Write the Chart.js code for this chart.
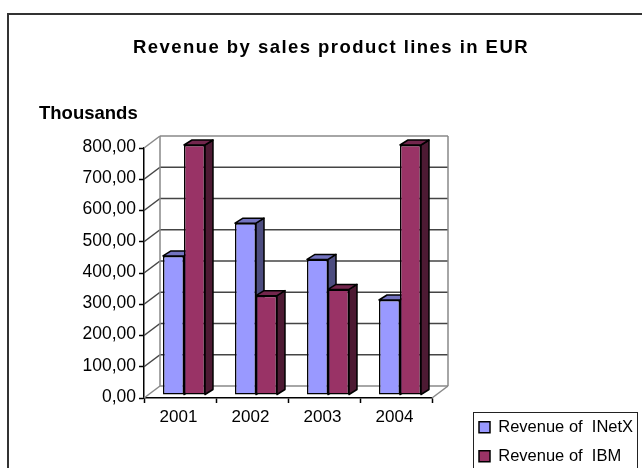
<!DOCTYPE html>
<html>
<head>
<meta charset="utf-8">
<title>Revenue by sales product lines</title>
<script src="https://cdn.jsdelivr.net/npm/chart.js@4"></script>
<style>
  html, body { margin: 0; padding: 0; background: #fff; overflow: hidden; }
  canvas { display: block; }
</style>
</head>
<body>
<canvas id="myChart" width="642" height="468"></canvas>
<script>
const years = ['2001', '2002', '2003', '2004'];
const inetxRevenue = [445, 550, 434, 304];
const ibmRevenue = [800, 318, 338, 800];
const yTickLabels = ['0,00', '100,00', '200,00', '300,00', '400,00', '500,00', '600,00', '700,00', '800,00'];

const FONT = 'Liberation Sans, Arial, sans-serif';

// the fake 3D look: floor/back wall, plus top and side faces of each bar
const wallDepth = { x: 16, y: -12 };
const barShift = { x: 4, y: -3 };
const barDepth = { x: 8, y: -5 };
const topColors = ['#7373c0', '#73264d'];
const sideColors = ['#4d4d80', '#4d1a33'];

function line(ctx, x1, y1, x2, y2) {
  ctx.beginPath();
  ctx.moveTo(x1, y1);
  ctx.lineTo(x2, y2);
  ctx.stroke();
}

function face(ctx, pts, fill) {
  ctx.beginPath();
  pts.forEach((p, i) => i ? ctx.lineTo(p[0], p[1]) : ctx.moveTo(p[0], p[1]));
  ctx.closePath();
  ctx.fillStyle = fill;
  ctx.fill();
  ctx.stroke();
}

const chartFrame = {
  id: 'chartFrame',
  afterLayout(chart) {
    // title, axis caption and legend sit where the layout would not put them
    chart.boxes.forEach(box => {
      if (box === chart.legend) {
        box.left = 466.5; box.right = 642; box.top = 406.5; box.bottom = 520;
      } else if (box.options.text === 'Thousands') {
        box.left = 39; box.right = 200; box.top = 103.3; box.bottom = 126;
      } else if (box.options.text) {
        box.left = 7; box.right = 655; box.top = 36.9; box.bottom = 60;
        // the source title is set wider than the font's own spacing
        const drawTitle = box.draw;
        box.draw = function () {
          chart.ctx.letterSpacing = '1.45px';
          drawTitle.call(this);
          chart.ctx.letterSpacing = '0px';
        };
      }
    });
  },
  beforeDraw(chart) {
    const ctx = chart.ctx;
    ctx.save();
    ctx.strokeStyle = '#333';
    ctx.lineWidth = 2;
    ctx.strokeRect(8, 14, 700, 600);
    ctx.lineWidth = 1;
    ctx.strokeStyle = '#222';
    ctx.strokeRect(473.5, 412.5, 164, 80);
    ctx.restore();
  },
  beforeDatasetsDraw(chart) {
    const ctx = chart.ctx;
    const { left, right, top, bottom } = chart.chartArea;
    const yScale = chart.scales.y;
    ctx.save();
    ctx.lineWidth = 1.5;
    yScale.ticks.forEach((tick, i) => {
      const py = yScale.getPixelForTick(i);
      const edge = i === 0 || i === yScale.ticks.length - 1;
      ctx.strokeStyle = edge ? '#888' : '#444';
      line(ctx, left, py, left + wallDepth.x, py + wallDepth.y);
      line(ctx, left + wallDepth.x, py + wallDepth.y, right + wallDepth.x, py + wallDepth.y);
    });
    ctx.strokeStyle = '#888';
    line(ctx, left + wallDepth.x, top + wallDepth.y, left + wallDepth.x, bottom + wallDepth.y);
    line(ctx, right + wallDepth.x, top + wallDepth.y, right + wallDepth.x, bottom + wallDepth.y);
    line(ctx, right, bottom, right + wallDepth.x, bottom + wallDepth.y);

    // sides and tops first, in series order, so the next bar can cover them
    ctx.strokeStyle = '#000';
    ctx.lineWidth = 1.5;
    ctx.lineJoin = 'round';
    chart.data.datasets.forEach((ds, d) => {
      chart.getDatasetMeta(d).data.forEach(bar => {
        const x1 = bar.x + bar.width / 2 + barShift.x;
        const x0 = bar.x - bar.width / 2 + barShift.x;
        const y0 = bar.y + barShift.y;
        const y1 = bar.base + barShift.y;
        face(ctx, [[x1, y0], [x1 + barDepth.x, y0 + barDepth.y], [x1 + barDepth.x, y1 + barDepth.y], [x1, y1]], sideColors[d]);
        face(ctx, [[x0, y0], [x0 + barDepth.x, y0 + barDepth.y], [x1 + barDepth.x, y0 + barDepth.y], [x1, y0]], topColors[d]);
      });
    });
    ctx.restore();

    // front faces come from the library, just moved into the room
    ctx.save();
    ctx.translate(barShift.x, barShift.y);
  },
  afterDatasetsDraw(chart) {
    chart.ctx.restore();
  }
};

const ctx = document.getElementById('myChart');
new Chart(ctx, {
  type: 'bar',
  data: {
    labels: years,
    datasets: [{
      label: 'Revenue of  INetX',
      data: inetxRevenue,
      backgroundColor: '#9999ff',
      borderColor: '#000',
      borderWidth: 1.5,
      borderSkipped: false
    }, {
      label: 'Revenue of  IBM',
      data: ibmRevenue,
      backgroundColor: '#993366',
      borderColor: '#000',
      borderWidth: 1.5,
      borderSkipped: false
    }]
  },
  plugins: [chartFrame],
  options: {
    responsive: false,
    animation: false,
    categoryPercentage: 0.583,
    barPercentage: 1,
    layout: { padding: { left: 0, top: 103.6, right: 210, bottom: 0 } },
    plugins: {
      tooltip: { enabled: false },
      title: {
        display: true,
        text: 'Revenue by sales product lines in EUR',
        color: '#000',
        padding: 0,
        font: { family: FONT, size: 18.5, weight: 'bold' }
      },
      subtitle: {
        display: true,
        text: 'Thousands',
        align: 'start',
        color: '#000',
        padding: 0,
        font: { family: FONT, size: 18.5, weight: 'bold' }
      },
      legend: {
        position: 'chartArea',
        align: 'start',
        labels: {
          boxWidth: 11,
          boxHeight: 11,
          padding: 12.5,
          color: '#000',
          font: { family: FONT, size: 16.5 }
        }
      }
    },
    scales: {
      x: {
        afterFit(scale) { scale.height = 70; },
        border: { color: '#000', width: 1.5 },
        grid: { drawOnChartArea: false, tickLength: 5, tickColor: '#000', tickWidth: 1.5 },
        ticks: { color: '#000', padding: 4, labelOffset: -1.5, maxRotation: 0, font: { family: FONT, size: 17 } }
      },
      y: {
        min: 0,
        max: 800,
        afterFit(scale) { scale.width = 144; },
        border: { color: '#000', width: 1.5 },
        grid: { drawOnChartArea: false, tickLength: 5, tickColor: '#000', tickWidth: 1.5 },
        ticks: {
          stepSize: 100,
          color: '#000',
          padding: 3,
          labelOffset: -1,
          font: { family: FONT, size: 17.5 },
          callback: (value, i) => yTickLabels[i]
        }
      }
    }
  }
});
</script>
</body>
</html>
